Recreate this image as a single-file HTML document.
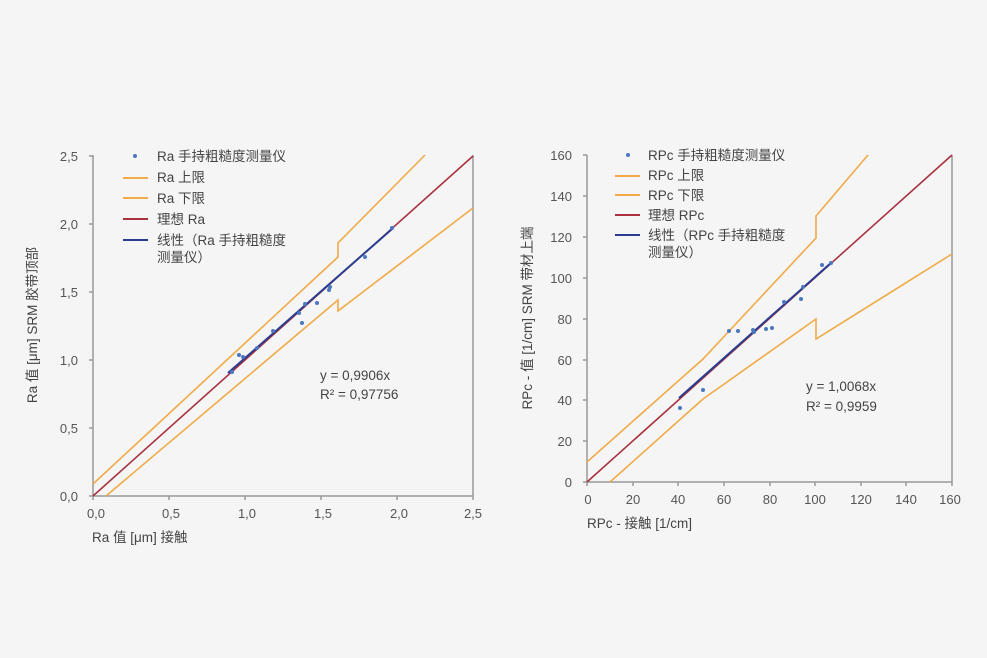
<!DOCTYPE html>
<html><head><meta charset="utf-8"><style>
html,body{margin:0;padding:0;background:#f5f5f5;}
svg{display:block;font-family:"Liberation Sans","Noto Sans CJK SC",sans-serif;}
.t{fill:#555;font-size:13px;}
.l{fill:#444;font-size:13.5px;}
</style></head><body>
<svg width="987" height="658" viewBox="0 0 987 658">
<rect width="987" height="658" fill="#f5f5f5"/>
<!-- LEFT CHART -->
<g stroke="#999" stroke-width="1.5" fill="none">
<line x1="93" y1="155" x2="93" y2="496"/>
<line x1="93" y1="496" x2="473" y2="496"/>
<line x1="473" y1="155" x2="473" y2="496"/>
<path d="M89 156H93M89 224H93M89 292H93M89 360H93M89 428H93M89 496H93"/>
<path d="M93 496V500M169 496V500M245 496V500M321 496V500M397 496V500M473 496V500"/>
</g>
<g class="t" text-anchor="end">
<text x="78" y="161">2,5</text><text x="78" y="229">2,0</text><text x="78" y="297">1,5</text>
<text x="78" y="365">1,0</text><text x="78" y="433">0,5</text><text x="78" y="501">0,0</text>
</g>
<g class="t" text-anchor="middle">
<text x="96" y="518">0,0</text><text x="171" y="518">0,5</text><text x="247" y="518">1,0</text>
<text x="323" y="518">1,5</text><text x="399" y="518">2,0</text><text x="473" y="518">2,5</text>
</g>
<text class="l" x="92" y="542">Ra 值 [μm] 接触</text>
<text class="l" transform="translate(37,325) rotate(-90)" text-anchor="middle">Ra 值 [μm] SRM 胶带顶部</text>
<g fill="none" stroke-width="1.6">
<path d="M93 484L338 257L338 243L425 155" stroke="#f0aa48"/>
<path d="M106 496L338 300L338 311L473 208" stroke="#f0aa48"/>
<line x1="93" y1="496" x2="473" y2="156" stroke="#a8323e"/>
<line x1="228" y1="373" x2="392" y2="229" stroke="#2a3d8f" stroke-width="2"/>
</g>
<g fill="#4a78c0">
<circle cx="232" cy="372" r="2"/><circle cx="239" cy="355" r="2"/><circle cx="243" cy="357" r="2"/>
<circle cx="257" cy="348" r="2"/><circle cx="273" cy="331" r="2"/><circle cx="302" cy="323" r="2"/>
<circle cx="299" cy="313" r="2"/><circle cx="305" cy="304" r="2"/><circle cx="317" cy="303" r="2"/>
<circle cx="329" cy="290" r="2"/><circle cx="330" cy="287" r="2"/><circle cx="365" cy="257" r="2"/>
<circle cx="392" cy="228" r="2"/>
</g>
<text class="l" x="320" y="380">y = 0,9906x</text>
<text class="l" x="320" y="399">R² = 0,97756</text>
<!-- legend left -->
<circle cx="135" cy="156" r="2" fill="#4a78c0"/>
<line x1="123" y1="178" x2="148" y2="178" stroke="#f0aa48" stroke-width="2"/>
<line x1="123" y1="198" x2="148" y2="198" stroke="#f0aa48" stroke-width="2"/>
<line x1="123" y1="219" x2="148" y2="219" stroke="#a8323e" stroke-width="2"/>
<line x1="123" y1="240" x2="148" y2="240" stroke="#2a3d8f" stroke-width="2"/>
<g class="l"><text x="157" y="161">Ra 手持粗糙度测量仪</text><text x="157" y="182">Ra 上限</text>
<text x="157" y="203">Ra 下限</text><text x="157" y="224">理想 Ra</text>
<text x="157" y="245">线性（Ra 手持粗糙度</text><text x="157" y="262">测量仪）</text></g>

<!-- RIGHT CHART -->
<g stroke="#999" stroke-width="1.5" fill="none">
<line x1="587" y1="155" x2="587" y2="482"/>
<line x1="587" y1="482" x2="952" y2="482"/>
<line x1="952" y1="155" x2="952" y2="482"/>
<path d="M583 155H587M583 196H587M583 237H587M583 278H587M583 319H587M583 360H587M583 400H587M583 441H587M583 482H587"/>
<path d="M587 482V486M633 482V486M678 482V486M724 482V486M770 482V486M815 482V486M861 482V486M906 482V486M952 482V486"/>
</g>
<g class="t" text-anchor="end">
<text x="572" y="160">160</text><text x="572" y="201">140</text><text x="572" y="242">120</text>
<text x="572" y="283">100</text><text x="572" y="324">80</text><text x="572" y="365">60</text>
<text x="572" y="405">40</text><text x="572" y="446">20</text><text x="572" y="487">0</text>
</g>
<g class="t" text-anchor="middle">
<text x="588" y="504">0</text><text x="633" y="504">20</text><text x="678" y="504">40</text>
<text x="724" y="504">60</text><text x="770" y="504">80</text><text x="815" y="504">100</text>
<text x="861" y="504">120</text><text x="906" y="504">140</text><text x="950" y="504">160</text>
</g>
<text class="l" x="587" y="528">RPc - 接触 [1/cm]</text>
<text class="l" transform="translate(532,318) rotate(-90)" text-anchor="middle">RPc - 值 [1/cm] SRM 带材上端</text>
<g fill="none" stroke-width="1.6">
<path d="M587 462L703 359L816 238L816 216L868 155" stroke="#f0aa48"/>
<path d="M610 482L703 399L816 319L816 339L952 254" stroke="#f0aa48"/>
<line x1="587" y1="482" x2="952" y2="155" stroke="#a8323e"/>
<line x1="679" y1="398" x2="832" y2="262" stroke="#2a3d8f" stroke-width="2"/>
</g>
<g fill="#4a78c0">
<circle cx="680" cy="408" r="2"/><circle cx="703" cy="390" r="2"/><circle cx="729" cy="331" r="2"/>
<circle cx="738" cy="331" r="2"/><circle cx="753" cy="330" r="2"/><circle cx="754" cy="332" r="2"/>
<circle cx="766" cy="329" r="2"/><circle cx="772" cy="328" r="2"/><circle cx="784" cy="302" r="2"/>
<circle cx="801" cy="299" r="2"/><circle cx="803" cy="287" r="2"/><circle cx="822" cy="265" r="2"/>
<circle cx="831" cy="263" r="2"/>
</g>
<text class="l" x="806" y="391">y = 1,0068x</text>
<text class="l" x="806" y="411">R² = 0,9959</text>
<!-- legend right -->
<circle cx="628" cy="155" r="2" fill="#4a78c0"/>
<line x1="615" y1="176" x2="640" y2="176" stroke="#f0aa48" stroke-width="2"/>
<line x1="615" y1="195" x2="640" y2="195" stroke="#f0aa48" stroke-width="2"/>
<line x1="615" y1="215" x2="640" y2="215" stroke="#a8323e" stroke-width="2"/>
<line x1="615" y1="235" x2="640" y2="235" stroke="#2a3d8f" stroke-width="2"/>
<g class="l"><text x="648" y="160">RPc 手持粗糙度测量仪</text><text x="648" y="180">RPc 上限</text>
<text x="648" y="200">RPc 下限</text><text x="648" y="220">理想 RPc</text>
<text x="648" y="240">线性（RPc 手持粗糙度</text><text x="648" y="257">测量仪）</text></g>
</svg>
</body></html>
